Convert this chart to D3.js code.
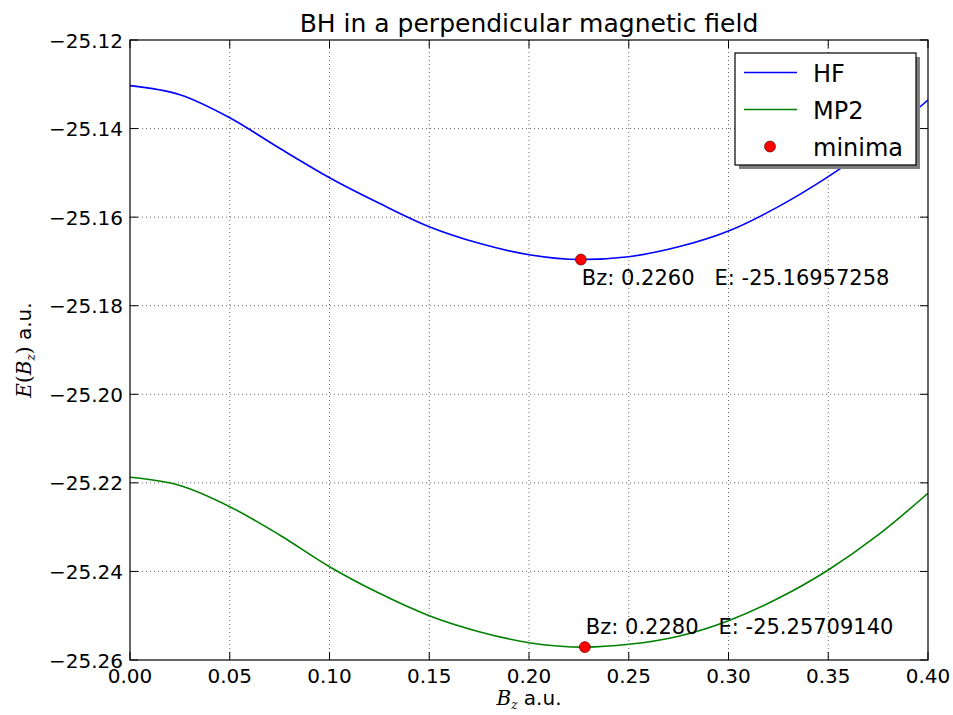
<!DOCTYPE html>
<html>
<head>
<meta charset="utf-8">
<script src="https://cdn.jsdelivr.net/npm/d3@7"></script>
<style>
  html, body { margin: 0; padding: 0; background: #fff; }
  svg text { font-family: "DejaVu Sans", sans-serif; fill: #000; }
  .math { font-family: "DejaVu Serif", "Liberation Serif", serif; font-style: italic; }
</style>
</head>
<body>
<svg id="chart" width="953" height="715"></svg>
<script>
// Field strength grid (a.u.)
const bzGrid = [0.000, 0.025, 0.050, 0.075, 0.100, 0.125, 0.150, 0.175, 0.200,
                0.250, 0.275, 0.300, 0.325, 0.350, 0.375, 0.400];
// Hartree-Fock total energies on the grid
const hfEnergy = [-25.13030, -25.13235, -25.13755, -25.14445, -25.15109, -25.15687,
                  -25.16216, -25.16591, -25.16848, -25.16893, -25.16670, -25.16313,
                  -25.15763, -25.15086, -25.14290, -25.13355];
// MP2 total energies on the grid
const mp2Energy = [-25.21875, -25.22060, -25.22538, -25.23177, -25.23893, -25.24494,
                   -25.25000, -25.25361, -25.25609, -25.25646, -25.25462, -25.25112,
                   -25.24607, -25.23968, -25.23177, -25.22235];
// Located minima
const minimaLabels = ["HF", "MP2"];
const minimaBz = [0.2260, 0.2280];
const minimaE = [-25.16957258, -25.25709140];

const xTicks = [0.00, 0.05, 0.10, 0.15, 0.20, 0.25, 0.30, 0.35, 0.40];
const yTicks = [-25.26, -25.24, -25.22, -25.20, -25.18, -25.16, -25.14, -25.12];

const svg = d3.select("#chart");
const pLeft = 130, pRight = 928, pTop = 40, pBottom = 660;

const x = d3.scaleLinear().domain([0, 0.4]).range([pLeft, pRight]);
const y = d3.scaleLinear().domain([-25.26, -25.12]).range([pBottom, pTop]);

svg.append("defs").append("clipPath").attr("id", "plotClip")
  .append("rect").attr("x", pLeft).attr("y", pTop)
  .attr("width", pRight - pLeft).attr("height", pBottom - pTop);

// dotted grid
const grid = svg.append("g").attr("stroke", "#000").attr("stroke-width", 0.8)
  .attr("stroke-dasharray", "1,3").attr("opacity", 0.75);
xTicks.slice(1, -1).forEach(v => grid.append("line")
  .attr("x1", x(v)).attr("x2", x(v)).attr("y1", pTop).attr("y2", pBottom));
yTicks.slice(1, -1).forEach(v => grid.append("line")
  .attr("x1", pLeft).attr("x2", pRight).attr("y1", y(v)).attr("y2", y(v)));

// series curves, each with its minimum merged in
function series(energies, i) {
  const pts = bzGrid.map((b, k) => [b, energies[k]]);
  pts.push([minimaBz[i], minimaE[i]]);
  return pts.sort((a, b) => a[0] - b[0]);
}
const line = d3.line().x(d => x(d[0])).y(d => y(d[1])).curve(d3.curveMonotoneX);
const plot = svg.append("g").attr("clip-path", "url(#plotClip)");
plot.append("path").attr("d", line(series(hfEnergy, 0)))
  .attr("fill", "none").attr("stroke", "#0000ff").attr("stroke-width", 1.6);
plot.append("path").attr("d", line(series(mp2Energy, 1)))
  .attr("fill", "none").attr("stroke", "#008000").attr("stroke-width", 1.6);

// minima markers
minimaBz.forEach((b, i) => {
  svg.append("circle").attr("cx", x(b)).attr("cy", y(minimaE[i])).attr("r", 5.5)
    .attr("fill", "#ff0000").attr("stroke", "#400000").attr("stroke-width", 0.6);
});

// minima annotations
const annOffset = [[1, 25.5], [1, -13]];
minimaBz.forEach((b, i) => {
  svg.append("text")
    .attr("x", x(b) + annOffset[i][0]).attr("y", y(minimaE[i]) + annOffset[i][1])
    .style("white-space", "pre").attr("font-size", 21)
    .text("Bz: " + b.toFixed(4) + "   E: " + minimaE[i].toFixed(8));
});

// frame
svg.append("rect").attr("x", pLeft).attr("y", pTop)
  .attr("width", pRight - pLeft).attr("height", pBottom - pTop)
  .attr("fill", "none").attr("stroke", "#000").attr("stroke-width", 1.2);

// inward ticks on all four sides
const tickLen = 8;
const tk = svg.append("g").attr("stroke", "#000").attr("stroke-width", 1);
xTicks.forEach(v => {
  tk.append("line").attr("x1", x(v)).attr("x2", x(v)).attr("y1", pBottom).attr("y2", pBottom - tickLen);
  tk.append("line").attr("x1", x(v)).attr("x2", x(v)).attr("y1", pTop).attr("y2", pTop + tickLen);
});
yTicks.forEach(v => {
  tk.append("line").attr("x1", pLeft).attr("x2", pLeft + tickLen).attr("y1", y(v)).attr("y2", y(v));
  tk.append("line").attr("x1", pRight).attr("x2", pRight - tickLen).attr("y1", y(v)).attr("y2", y(v));
});

// tick labels
const fmtY = d3.format(".2f");
xTicks.forEach(v => svg.append("text").attr("x", x(v)).attr("y", 683)
  .attr("text-anchor", "middle").attr("font-size", 20).text(v.toFixed(2)));
yTicks.forEach(v => svg.append("text").attr("x", 123).attr("y", y(v) + 7.5)
  .attr("text-anchor", "end").attr("font-size", 20)
  .text(fmtY(v).replace("-", "\u2212")));

// title
svg.append("text").attr("x", (pLeft + pRight) / 2).attr("y", 31.5)
  .attr("text-anchor", "middle").attr("font-size", 25)
  .text("BH in a perpendicular magnetic field");

// axis labels
const xl = svg.append("text").attr("x", (pLeft + pRight) / 2).attr("y", 705)
  .attr("text-anchor", "middle").attr("font-size", 20);
xl.append("tspan").attr("class", "math").text("B");
xl.append("tspan").attr("class", "math").attr("font-size", 12).attr("dy", 4).text("z");
xl.append("tspan").attr("dy", -4).text(" a.u.");

const yl = svg.append("text").attr("transform", "translate(31," + ((pTop + pBottom) / 2) + ") rotate(-90)")
  .attr("text-anchor", "middle").attr("font-size", 20);
yl.append("tspan").attr("class", "math").text("E");
yl.append("tspan").attr("font-family", "DejaVu Serif, serif").text("(");
yl.append("tspan").attr("class", "math").text("B");
yl.append("tspan").attr("class", "math").attr("font-size", 12).attr("dy", 4).text("z");
yl.append("tspan").attr("font-family", "DejaVu Serif, serif").attr("dy", -4).text(")");
yl.append("tspan").text(" a.u.");

// legend
const lg = svg.append("g");
const lx = 735, ly = 53, lw = 181, lh = 112;
lg.append("rect").attr("x", lx + 4).attr("y", ly + 4).attr("width", lw).attr("height", lh)
  .attr("fill", "#7f7f7f");
lg.append("rect").attr("x", lx).attr("y", ly).attr("width", lw).attr("height", lh)
  .attr("fill", "#fff").attr("stroke", "#000").attr("stroke-width", 1.2);
const entries = [
  { label: "HF", color: "#0000ff", type: "line" },
  { label: "MP2", color: "#008000", type: "line" },
  { label: "minima", color: "#ff0000", type: "dot" }
];
entries.forEach((e, i) => {
  const cy = 72.5 + i * 37;
  if (e.type === "line") {
    lg.append("line").attr("x1", 744).attr("x2", 797).attr("y1", cy).attr("y2", cy)
      .attr("stroke", e.color).attr("stroke-width", 1.6);
  } else {
    lg.append("circle").attr("cx", 770).attr("cy", cy).attr("r", 5.5)
      .attr("fill", e.color).attr("stroke", "#400000").attr("stroke-width", 0.6);
  }
  lg.append("text").attr("x", 813).attr("y", cy + 9.5).attr("font-size", 24).text(e.label);
});
</script>
</body>
</html>
